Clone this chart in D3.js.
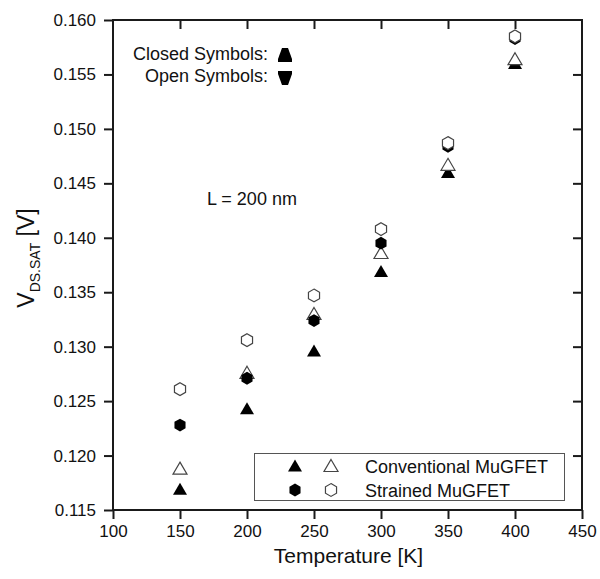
<!DOCTYPE html>
<html>
<head>
<meta charset="utf-8">
<script src="https://cdn.jsdelivr.net/npm/d3@7"></script>
<style>
  html, body { margin: 0; padding: 0; background: #fff; }
  svg { display: block; font-family: "Liberation Sans", Arial, sans-serif; }
</style>
</head>
<body>
<svg id="chart" width="600" height="579"></svg>
<script>
// ---- data ----
const temperatures = [150, 200, 250, 300, 350, 400];
const conventionalClosed = [0.1169, 0.1243, 0.1296, 0.1369, 0.1460, 0.1560];
const conventionalOpen   = [0.1188, 0.1276, 0.1330, 0.1386, 0.1467, 0.1564];
const strainedClosed     = [0.1228, 0.1271, 0.1324, 0.1395, 0.1484, 0.1583];
const strainedOpen       = [0.1261, 0.1306, 0.1347, 0.1408, 0.1487, 0.1585];
const xTicks = [100, 150, 200, 250, 300, 350, 400, 450];
const yTicks = [0.115, 0.120, 0.125, 0.130, 0.135, 0.140, 0.145, 0.150, 0.155, 0.160];
const legendLabels = ["Conventional MuGFET", "Strained MuGFET"];

// ---- layout ----
const svg = d3.select("#chart");
const pLeft = 113, pRight = 582, pTop = 20, pBottom = 510;
const x = d3.scaleLinear().domain([100, 450]).range([pLeft, pRight]);
const y = d3.scaleLinear().domain([0.115, 0.160]).range([pBottom, pTop]);
const axisColor = "#1a1a1a";
const tickLen = 9;

// ---- marker shapes ----
const triPath = "M0,-6.5L7,5.5L-7,5.5Z";
function hexPath(r) {
  const pts = d3.range(6).map(i => {
    const a = -Math.PI / 2 + i * Math.PI / 3;
    return [r * Math.cos(a), r * Math.sin(a)];
  });
  return "M" + pts.map(p => p.join(",")).join("L") + "Z";
}
const hexD = hexPath(6.4);

// ---- axes ----
const gx = svg.append("g").attr("transform", `translate(0,${pBottom})`)
  .call(d3.axisBottom(x).tickValues(xTicks).tickFormat(d3.format("d")).tickSize(tickLen).tickPadding(6));
const gy = svg.append("g").attr("transform", `translate(${pLeft},0)`)
  .call(d3.axisLeft(y).tickValues(yTicks).tickFormat(d3.format(".3f")).tickSize(tickLen).tickPadding(8));
const gxt = svg.append("g").attr("transform", `translate(0,${pTop})`)
  .call(d3.axisTop(x).tickValues(xTicks.slice(1, -1)).tickFormat("").tickSize(-tickLen));
const gyr = svg.append("g").attr("transform", `translate(${pRight},0)`)
  .call(d3.axisRight(y).tickValues(yTicks.slice(1, -1)).tickFormat("").tickSize(-tickLen));

[gx, gy, gxt, gyr].forEach(g => {
  g.select(".domain").remove();
  g.selectAll(".tick line").attr("stroke", axisColor).attr("stroke-width", 2);
  g.selectAll(".tick text").attr("fill", "#111").style("font-size", "17px");
});

// frame
svg.append("rect")
  .attr("x", pLeft).attr("y", pTop)
  .attr("width", pRight - pLeft).attr("height", pBottom - pTop)
  .attr("fill", "none").attr("stroke", axisColor).attr("stroke-width", 2);

// ---- axis titles ----
svg.append("text")
  .attr("x", (pLeft + pRight) / 2 + 1).attr("y", 563)
  .attr("text-anchor", "middle").style("font-size", "21px").attr("fill", "#111")
  .text("Temperature [K]");

const yt = svg.append("text")
  .attr("transform", "translate(34,258) rotate(-90)")
  .attr("text-anchor", "middle").style("font-size", "23px").attr("fill", "#111");
yt.append("tspan").text("V");
yt.append("tspan").attr("dy", 6).style("font-size", "14px").text("DS.SAT");
yt.append("tspan").attr("dy", -6).text(" [V]");

// ---- annotations ----
svg.append("text").attr("x", 207).attr("y", 205)
  .style("font-size", "18px").attr("fill", "#111").text("L = 200 nm");
svg.append("text").attr("x", 268).attr("y", 60).attr("text-anchor", "end")
  .style("font-size", "18px").attr("fill", "#111").text("Closed Symbols:");
svg.append("text").attr("x", 268).attr("y", 82).attr("text-anchor", "end")
  .style("font-size", "18px").attr("fill", "#111").text("Open Symbols:");
const capUp = "M-3,-7L3,-7L7,4L7,7L-7,7L-7,4Z";
const capDown = "M-3,7L3,7L7,-4L7,-7L-7,-7L-7,-4Z";
svg.append("path").attr("d", capUp).attr("transform", "translate(285,55)").attr("fill", "#000");
svg.append("path").attr("d", capDown).attr("transform", "translate(285,78)").attr("fill", "#000");

// ---- data marks ----
const series = [
  { vals: conventionalClosed, d: triPath, fill: "#000", stroke: "none" },
  { vals: conventionalOpen,   d: triPath, fill: "#fff", stroke: "#444" },
  { vals: strainedClosed,     d: hexD,    fill: "#000", stroke: "none" },
  { vals: strainedOpen,       d: hexD,    fill: "#fff", stroke: "#444" }
];
series.forEach(s => {
  svg.append("g").selectAll("path")
    .data(temperatures.map((t, i) => [t, s.vals[i]]))
    .join("path")
    .attr("d", s.d)
    .attr("transform", d => `translate(${x(d[0])},${y(d[1])})`)
    .attr("fill", s.fill)
    .attr("stroke", s.stroke)
    .attr("stroke-width", 1.2);
});

// ---- legend ----
const lg = svg.append("g");
lg.append("rect").attr("x", 254.5).attr("y", 453.5).attr("width", 310).attr("height", 47)
  .attr("fill", "#fff").attr("stroke", "#555").attr("stroke-width", 1);
const legendRows = [
  { label: legendLabels[0], d: triPath, cy: 466 },
  { label: legendLabels[1], d: hexD, cy: 490 }
];
legendRows.forEach(r => {
  lg.append("path").attr("d", r.d).attr("transform", `translate(295,${r.cy})`).attr("fill", "#000");
  lg.append("path").attr("d", r.d).attr("transform", `translate(331,${r.cy})`)
    .attr("fill", "#fff").attr("stroke", "#444").attr("stroke-width", 1.2);
  lg.append("text").attr("x", 365).attr("y", r.cy + 7)
    .style("font-size", "18px").attr("fill", "#111").text(r.label);
});
</script>
</body>
</html>
